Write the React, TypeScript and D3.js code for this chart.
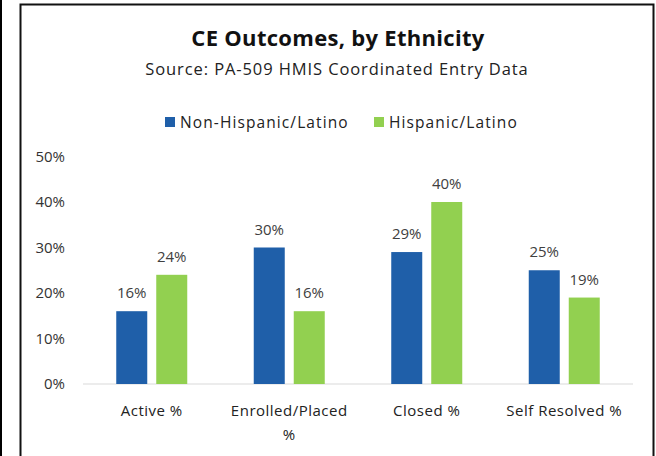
import React from "react";
import * as d3 from "d3";

const categories = ["Active %", "Enrolled/Placed %", "Closed %", "Self Resolved %"];
const categoryLines = [["Active %"], ["Enrolled/Placed", "%"], ["Closed %"], ["Self Resolved %"]];
const seriesNames = ["Non-Hispanic/Latino", "Hispanic/Latino"];
const nonHispanic = [0.16, 0.30, 0.29, 0.25];
const hispanic = [0.24, 0.16, 0.40, 0.19];
const yTicks = [0, 0.1, 0.2, 0.3, 0.4, 0.5];
const colors = ["#1f5fa9", "#92d050"];

export default function App() {
  const W = 656, H = 456;
  const font = "'Open Sans', Lato, sans-serif";
  const y = d3.scaleLinear().domain([0, 0.5]).range([384, 156.5]);
  const x0 = d3.scaleBand<string>().domain(categories).range([83, 633]);
  const bw = x0.bandwidth();
  const x1 = d3.scaleBand<string>().domain(seriesNames).range([bw / 2 - 35.5, bw / 2 + 35.5]).paddingInner(0.225);
  const seriesData = [nonHispanic, hispanic];
  const fmt = d3.format(".0%");

  return (
    <svg width={W} height={H} style={{ position: "absolute", left: 0, top: 0 }} fontFamily={font}>
      <rect x={0} y={0} width={W} height={H} fill="#ffffff" />
      <line x1={1} y1={0} x2={1} y2={H} stroke="#000" strokeWidth={2} />
      <path d={`M20.5,${H} V4.5 H653.5 V${H}`} fill="none" stroke="#111" strokeWidth={2} />
      <text x={338} y={46} textAnchor="middle" fontSize={22} fontWeight="bold" letterSpacing={0.3} fill="#111">CE Outcomes, by Ethnicity</text>
      <text x={337} y={75} textAnchor="middle" fontSize={16.5} letterSpacing={0.9} fill="#222">Source: PA-509 HMIS Coordinated Entry Data</text>
      {seriesNames.map((s, i) => {
        const lx = i === 0 ? 165 : 374;
        return (
          <g key={s}>
            <rect x={lx} y={117} width={10} height={10} fill={colors[i]} />
            <text x={lx + 15} y={127.5} fontSize={15.5} letterSpacing={1.1} fill="#222">{s}</text>
          </g>
        );
      })}
      {yTicks.map((t) => (
        <text key={t} x={65} y={y(t) + 5} textAnchor="end" fontSize={15} fill="#333">{fmt(t)}</text>
      ))}
      <line x1={83} x2={633} y1={384} y2={384} stroke="#d9d9d9" strokeWidth={1} />
      {categories.map((c, ci) => (
        <g key={c} transform={`translate(${x0(c)},0)`}>
          {seriesNames.map((s, si) => {
            const v = seriesData[si][ci];
            const bx = x1(s)!;
            return (
              <g key={s}>
                <rect x={bx} y={y(v)} width={x1.bandwidth()} height={384 - y(v)} fill={colors[si]} />
                <text x={bx + x1.bandwidth() / 2} y={y(v) - 13} textAnchor="middle" fontSize={15} fill="#404040">{fmt(v)}</text>
              </g>
            );
          })}
          {categoryLines[ci].map((ln, li) => (
            <text key={li} x={bw / 2} y={416 + li * 24} textAnchor="middle" fontSize={15} letterSpacing={0.5} fill="#222">{ln}</text>
          ))}
        </g>
      ))}
    </svg>
  );
}
